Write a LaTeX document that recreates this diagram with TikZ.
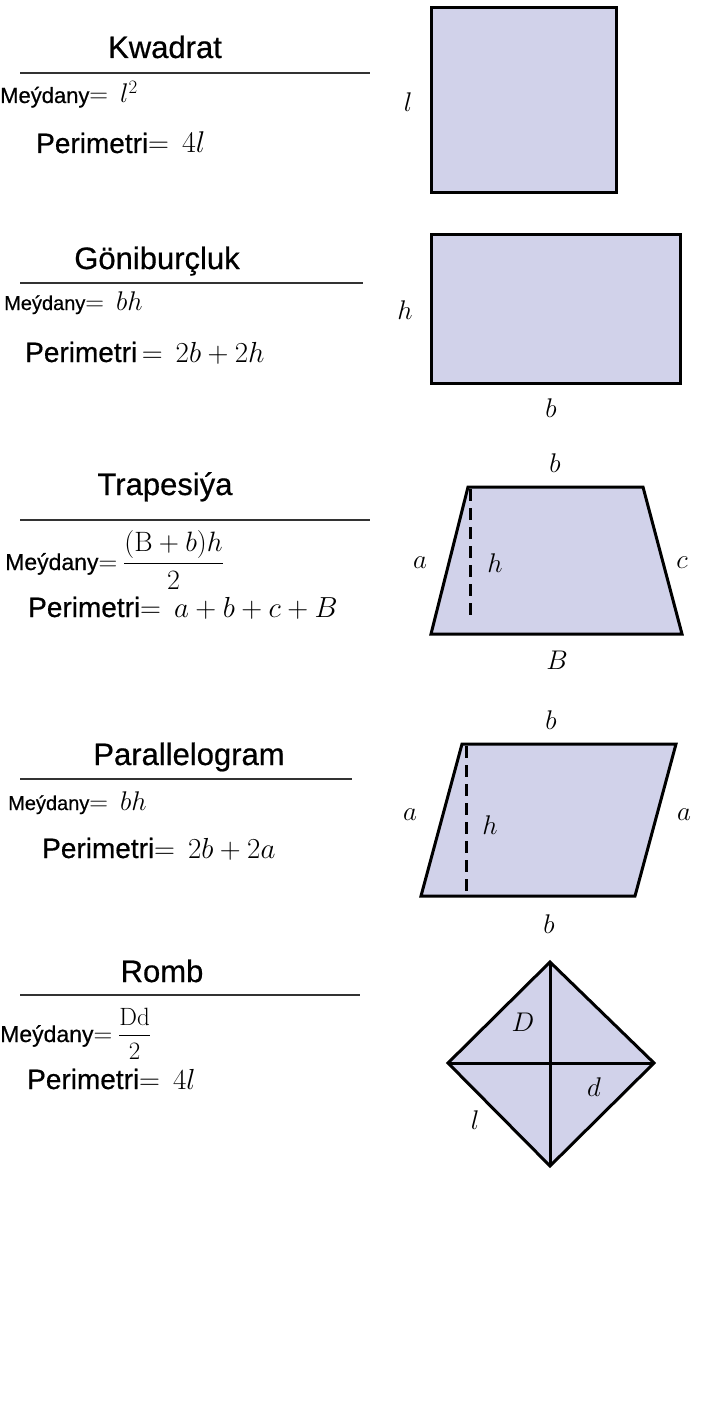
\RequirePackage{fix-cm}
\documentclass[tikz,border=0pt]{standalone}
\usepackage{amsmath}
\usepackage[no-math]{fontspec}
\setmainfont{Liberation Sans}[FakeBold=0.6]
\usetikzlibrary{positioning}
\definecolor{shapefill}{RGB}{209,210,234}
\newcommand{\fm}[2][27]{{\fontsize{#1}{#1}\selectfont$#2$}}

\begin{document}
\begin{tikzpicture}[x=1pt,y=-1pt,every node/.style={inner sep=0pt},title/.style={anchor=base,font=\fontsize{31}{36}\selectfont},rule/.style={draw=black!80,line width=2pt},area/.style={anchor=base west,font=\fontsize{22}{26}\selectfont},perim/.style={anchor=base west,font=\fontsize{28}{32}\selectfont},fig/.style={draw=black,fill=shapefill,line width=3pt,line join=miter},lbl/.style={font=\fontsize{27}{30}\selectfont},hgt/.style={draw=black,line width=3pt,dash pattern=on 12pt off 7pt}]
\useasboundingbox (0,0) rectangle (720,1418);
% Kwadrat
\node[title] (kwt) at (165,58) {Kwadrat};
\draw[rule] (20,73) -- (370,73);
\node[area] (kwa) at (0,103) {Meýdany\fm[26]{=}\hspace{12pt}\fm{l^2}};
\node[perim] (kwp) at (36,153) {Perimetri\fm[29]{=}\hspace{13pt}\fm[30]{4l}};
\draw[fig] (431,8) rectangle (616,192);
\node[lbl] (kwl) at (408,102) {$l$};
% Gonibur\c{c}luk
\node[title] (gbt) at (157,269) {Göniburçluk};
\draw[rule] (20,283) -- (363,283);
\node[area,font=\fontsize{20}{24}\selectfont] (gba) at (4,310) {Meýdany\fm[26]{=}\hspace{12pt}\fm{bh}};
\node[perim] (gbp) at (25,362) {Perimetri\,\fm[29]{=}\hspace{13pt}\fm[29]{2b+2h}};
\draw[fig] (431,234) rectangle (680,383);
\node[lbl] (gbh) at (405,310) {$h$};
\node[lbl] (gbb) at (551,408) {$b$};
% Trapesiya
\node[title] (trt) at (165,495) {Trapesiýa};
\draw[rule] (20,520) -- (370,520);
\node[area,font=\fontsize{23}{27}\selectfont] (tra) at (5,570) {Meýdany\fm[26]{=}\hspace{6pt}\fm[28]{\dfrac{(\mathrm{B}+b)h}{2}}};
\node[perim] (trp) at (28,617) {Perimetri\fm[29]{=}\hspace{13pt}\fm[29]{a+b+c+B}};
\draw[fig] (468,487) -- (643,487) -- (682,634) -- (431,634) -- cycle;
\draw[hgt] (470,489) -- (470,622);
\node[lbl] (trb) at (555,463) {$b$};
\node[lbl] (tra2) at (420,563) {$a$};
\node[lbl] (trh) at (495,563) {$h$};
\node[lbl] (trc) at (682,563) {$c$};
\node[lbl] (trB) at (557,660) {$B$};
% Parallelogram
\node[title] (pgt) at (189,765) {Parallelogram};
\draw[rule] (20,779) -- (352,779);
\node[area,font=\fontsize{20}{24}\selectfont] (pga) at (8,810) {Meýdany\fm[26]{=}\hspace{12pt}\fm{bh}};
\node[perim] (pgp) at (42,858) {Perimetri\fm[29]{=}\hspace{13pt}\fm[29]{2b+2a}};
\draw[fig] (462,744) -- (676,744) -- (635,896) -- (421,896) -- cycle;
\draw[hgt] (466,746) -- (466,893);
\node[lbl] (pgb) at (551,720) {$b$};
\node[lbl] (pga1) at (410,815) {$a$};
\node[lbl] (pgh) at (490,825) {$h$};
\node[lbl] (pga2) at (684,815) {$a$};
\node[lbl] (pgb2) at (549,924) {$b$};
% Romb
\node[title] (rmt) at (162,982) {Romb};
\draw[rule] (20,995) -- (360,995);
\node[area,font=\fontsize{23}{27}\selectfont] (rma) at (0,1042) {Meýdany\fm[26]{=}\hspace{6pt}\fm[25]{\dfrac{\mathrm{Dd}}{2}}};
\node[perim] (rmp) at (27,1089) {Perimetri\fm[29]{=}\hspace{13pt}\fm[29]{4l}};
\draw[fig] (550,962) -- (654,1063) -- (550,1166) -- (448,1063) -- cycle;
\draw[fig,fill=none] (550,962) -- (550,1166) (448,1063) -- (654,1063);
\node[lbl] (rmD) at (523,1022) {$D$};
\node[lbl] (rmd) at (594,1087) {$d$};
\node[lbl] (rml) at (475,1120) {$l$};
\end{tikzpicture}
\end{document}
